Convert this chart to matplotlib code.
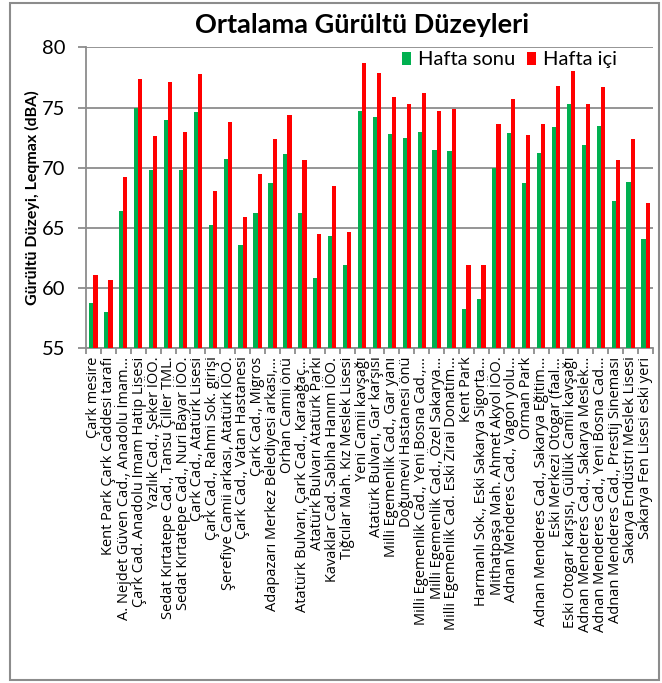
import matplotlib
matplotlib.use("Agg")
import matplotlib.pyplot as plt
from matplotlib.patches import Rectangle
import numpy as np

categories = [
    "Çark mesire",
    "Kent Park Çark Caddesi tarafı",
    "A. Nejdet Güven Cad., Anadolu İmam…",
    "Çark Cad. Anadolu İmam Hatip Lisesi",
    "Yazlık Cad., Şeker İÖO.",
    "Sedat Kırtatepe Cad., Tansu Çiller TML.",
    "Sedat Kırtatepe Cad., Nuri Bayar İÖO.",
    "Çark Cad., Atatürk Lisesi",
    "Çark Cad., Rahmi Sok. girişi",
    "Şerefiye Camii arkası, Atatürk İÖO.",
    "Çark Cad., Vatan Hastanesi",
    "Çark Cad., Migros",
    "Adapazarı Merkez Belediyesi arkası,…",
    "Orhan Camii önü",
    "Atatürk Bulvarı, Çark Cad., Karaağaç…",
    "Atatürk Bulvarı Atatürk Parkı",
    "Kavaklar Cad. Sabiha Hanım İÖO.",
    "Tığcılar Mah. Kız Meslek Lisesi",
    "Yeni Camii kavşağı",
    "Atatürk Bulvarı, Gar karşısı",
    "Milli Egemenlik Cad., Gar yanı",
    "Doğumevi Hastanesi önü",
    "Milli Egemenlik Cad., Yeni Bosna Cad.,…",
    "Milli Egemenlik Cad., Özel Sakarya…",
    "Milli Egemenlik Cad. Eski Zirai Donatım…",
    "Kent Park",
    "Harmanlı Sok., Eski Sakarya Sigorta…",
    "Mithatpaşa Mah. Ahmet Akyol İÖO.",
    "Adnan Menderes Cad., Vagon yolu…",
    "Orman Park",
    "Adnan Menderes Cad., Sakarya Eğitim…",
    "Eski Merkezi Otogar (faal…",
    "Eski Otogar karşısı, Güllük Camii kavşağı",
    "Adnan Menderes Cad., Sakarya Meslek…",
    "Adnan Menderes Cad., Yeni Bosna Cad…",
    "Adnan Menderes Cad., Prestij Sineması",
    "Sakarya Endüstri Meslek Lisesi",
    "Sakarya Fen Lisesi eski yeri",
]

hafta_sonu = [58.8, 58.0, 66.4, 75.0, 69.8, 74.0, 69.8, 74.6, 65.2, 70.7,
              63.6, 66.2, 68.7, 71.1, 66.2, 60.8, 64.3, 61.9, 74.7, 74.2,
              72.8, 72.5, 73.0, 71.5, 71.4, 58.3, 59.1, 70.0, 72.9, 68.7,
              71.2, 73.4, 75.3, 71.9, 73.5, 67.2, 68.8, 64.1]

hafta_ici = [61.1, 60.7, 69.2, 77.4, 72.6, 77.1, 73.0, 77.8, 68.1, 73.8,
             65.9, 69.5, 72.4, 74.4, 70.6, 64.5, 68.5, 64.7, 78.7, 77.9,
             75.9, 75.3, 76.2, 74.7, 74.9, 61.9, 61.9, 73.6, 75.7, 72.7,
             73.6, 76.8, 78.0, 75.3, 76.7, 70.6, 72.4, 67.1]

series_names = ["Hafta sonu", "Hafta içi"]
title = "Ortalama Gürültü Düzeyleri"
ylabel = "Gürültü Düzeyi, Leqmax (dBA)"
yticks = [55, 60, 65, 70, 75, 80]

W, H = 662, 683
fig = plt.figure(figsize=(W / 100, H / 100), dpi=100)
fig.patch.set_facecolor("white")

# outer chart frame
fig.patches.append(Rectangle((10 / W, 1 - 680 / H), (659 - 10) / W, (680 - 3) / H,
                             transform=fig.transFigure, fill=False,
                             edgecolor="#8c8c8c", linewidth=1.5))

ax_l, ax_r, ax_t, ax_b = 86, 653, 47.3, 348.3
ax = fig.add_axes([ax_l / W, 1 - ax_b / H, (ax_r - ax_l) / W, (ax_b - ax_t) / H])

x = np.arange(len(categories))
bw = 0.28
green = "#00B050"
red = "#FF0000"
ax.bar(x - bw / 2, np.array(hafta_sonu) - 55, bw, bottom=55, color=green,
       label=series_names[0], zorder=3)
ax.bar(x + bw / 2, np.array(hafta_ici) - 55, bw, bottom=55, color=red,
       label=series_names[1], zorder=3)

ax.set_xlim(-0.5, len(categories) - 0.5)
ax.set_ylim(55, 80)
ax.set_yticks(yticks)
ax.yaxis.grid(True, color="#8c8c8c", linewidth=1.3, zorder=0)
ax.set_axisbelow(True)

for s in ["top", "right"]:
    ax.spines[s].set_visible(False)
for s in ["left", "bottom"]:
    ax.spines[s].set_color("#8c8c8c")
    ax.spines[s].set_linewidth(1.3)

ax.set_xticks(x)
ax.set_xticklabels(categories, rotation=90, ha="center", va="top",
                   fontsize=10.5, family="Open Sans")
ax.tick_params(axis="x", which="major", length=0, pad=6)
ax.set_xticks(np.arange(-0.5, len(categories), 1.0), minor=True)
ax.tick_params(axis="x", which="minor", length=4, color="#8c8c8c", width=1.3)
ax.tick_params(axis="y", length=6, color="#8c8c8c", width=1.3, labelsize=14.5, pad=9)
for lbl in ax.get_yticklabels():
    lbl.set_family("Lato")

ax.set_ylabel(ylabel, fontsize=11.5, fontweight="bold", family="Lato", labelpad=1)
fig.text((ax_l + ax_r) / 2 / W - 0.012, 1 - 25 / H, title, ha="center", va="center",
         fontsize=19.5, fontweight="bold", family="Lato")

leg = ax.legend(loc="upper right", bbox_to_anchor=(0.955, 1.02), ncol=2, frameon=False,
                prop={"family": "Lato", "size": 14.5}, handlelength=0.45, handleheight=0.6,
                handletextpad=0.35, columnspacing=0.6, borderaxespad=0.1)

fig.savefig("out.png", dpi=100, facecolor="white")
